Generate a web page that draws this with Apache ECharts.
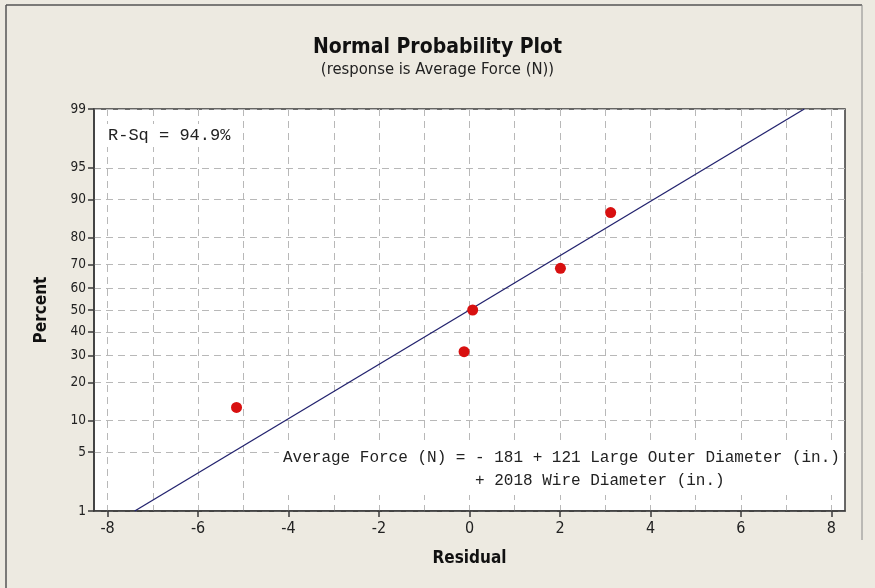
<!DOCTYPE html>
<html>
<head>
<meta charset="utf-8">
<script src="https://cdn.jsdelivr.net/npm/echarts@6/dist/echarts.min.js"></script>
<style>
html,body{margin:0;padding:0;background:#EDEAE1;}
#chart{width:875px;height:588px;}
</style>
</head>
<body>
<div id="chart"></div>
<script>
// ---- data ----
const residuals = [-5.15, -0.12, 0.07, 2.01, 3.12];
const percents = [12.96, 31.48, 50.0, 68.52, 87.04];
const fitResidual = [-7.40, 7.40];
const fitPercent = [1, 99];
const yTickPercents = [1, 5, 10, 20, 30, 40, 50, 60, 70, 80, 90, 95, 99];
const xTickValues = [-8, -6, -4, -2, 0, 2, 4, 6, 8];
const xGridValues = [-8, -7, -6, -5, -4, -3, -2, -1, 0, 1, 2, 3, 4, 5, 6, 7, 8];
const rsqText = 'R-Sq = 94.9%';
const eqLine1 = 'Average Force (N) = - 181 + 121 Large Outer Diameter (in.)';
const eqLine2 = '+ 2018 Wire Diameter (in.)';

// inverse standard normal CDF (probability scale), Acklam's approximation
function probit(p) {
  const a = [-3.969683028665376e+01, 2.209460984245205e+02, -2.759285104469687e+02, 1.383577518672690e+02, -3.066479806614716e+01, 2.506628277459239e+00];
  const b = [-5.447609879822406e+01, 1.615858368580409e+02, -1.556989798598866e+02, 6.680131188771972e+01, -1.328068155288572e+01];
  const c = [-7.784894002430293e-03, -3.223964580411365e-01, -2.400758277161838e+00, -2.549732539343734e+00, 4.374664141464968e+00, 2.938163982698783e+00];
  const d = [7.784695709041462e-03, 3.224671290700398e-01, 2.445134137142996e+00, 3.754408661907416e+00];
  const pl = 0.02425, ph = 1 - pl;
  let q, r;
  if (p < pl) {
    q = Math.sqrt(-2 * Math.log(p));
    return (((((c[0]*q+c[1])*q+c[2])*q+c[3])*q+c[4])*q+c[5]) / ((((d[0]*q+d[1])*q+d[2])*q+d[3])*q+1);
  } else if (p <= ph) {
    q = p - 0.5; r = q*q;
    return (((((a[0]*r+a[1])*r+a[2])*r+a[3])*r+a[4])*r+a[5])*q / (((((b[0]*r+b[1])*r+b[2])*r+b[3])*r+b[4])*r+1);
  } else {
    q = Math.sqrt(-2 * Math.log(1 - p));
    return -(((((c[0]*q+c[1])*q+c[2])*q+c[3])*q+c[4])*q+c[5]) / ((((d[0]*q+d[1])*q+d[2])*q+d[3])*q+1);
  }
}
const z = pct => probit(pct / 100);

const yTickZ = yTickPercents.map(z);
function yLabel(v) {
  let best = 0, bd = Infinity;
  yTickZ.forEach((t, i) => { const dd = Math.abs(t - v); if (dd < bd) { bd = dd; best = i; } });
  return String(yTickPercents[best]);
}

const tickFont = '"DejaVu Sans Condensed", "DejaVu Sans", sans-serif';
const mono = '"Liberation Mono", "DejaVu Sans Mono", monospace';

const chart = echarts.init(document.getElementById('chart'));
chart.setOption({
  backgroundColor: '#EDEAE1',
  animation: false,
  title: {
    text: 'Normal Probability Plot',
    subtext: '(response is Average Force (N))',
    left: 'center',
    top: 32,
    itemGap: 3,
    textStyle: { fontFamily: tickFont, fontWeight: 'bold', fontSize: 21, color: '#111' },
    subtextStyle: { fontFamily: tickFont, fontSize: 16.5, color: '#222' }
  },
  grid: {
    left: 94, right: 30, top: 109, bottom: 77,
    show: true, backgroundColor: '#FFFFFF', borderColor: '#3a3a3a', borderWidth: 1.5
  },
  xAxis: [{
    type: 'value', min: -8.3, max: 8.3, position: 'bottom',
    name: 'Residual', nameLocation: 'middle', nameGap: 39,
    nameTextStyle: { fontFamily: tickFont, fontWeight: 'bold', fontSize: 17, color: '#111' },
    axisLine: { show: true, onZero: false, lineStyle: { color: '#3a3a3a', width: 1.5 } },
    axisTick: { show: true, length: 6, customValues: xTickValues, lineStyle: { color: '#3a3a3a', width: 1.5 } },
    axisLabel: { customValues: xTickValues, fontFamily: tickFont, fontSize: 16, color: '#222', margin: 10 },
    splitLine: { show: false }
  }, {
    type: 'value', min: -8.3, max: 8.3, position: 'bottom',
    axisLine: { show: false },
    axisTick: { show: false, customValues: xGridValues },
    axisLabel: { show: false },
    splitLine: { show: true, lineStyle: { color: '#b8b8b8', type: [7, 5], width: 1 } }
  }],
  yAxis: {
    type: 'value', min: z(yTickPercents[0]), max: z(yTickPercents[yTickPercents.length - 1]),
    name: 'Percent', nameLocation: 'middle', nameGap: 44,
    nameTextStyle: { fontFamily: tickFont, fontWeight: 'bold', fontSize: 17, color: '#111' },
    axisLine: { show: true, onZero: false, lineStyle: { color: '#3a3a3a', width: 1.5 } },
    axisTick: { show: true, length: 6, customValues: yTickZ, lineStyle: { color: '#3a3a3a', width: 1.5 } },
    axisLabel: { customValues: yTickZ, formatter: yLabel, fontFamily: tickFont, fontSize: 13.5, color: '#222', margin: 8 },
    splitLine: { show: true, lineStyle: { color: '#b8b8b8', type: [7, 5], width: 1 } }
  },
  series: [{
    type: 'line',
    xAxisIndex: 0,
    data: fitResidual.map((x, i) => [x, z(fitPercent[i])]),
    symbol: 'none',
    lineStyle: { color: '#22226e', width: 1.3 },
    z: 3
  }, {
    type: 'scatter',
    xAxisIndex: 0,
    data: residuals.map((x, i) => [x, z(percents[i])]),
    symbol: 'circle', symbolSize: 11,
    itemStyle: { color: '#D81010', opacity: 1 },
    z: 4
  }],
  graphic: [
    { type: 'text', left: 104, top: 124, z: 2, style: { text: rsqText, font: '17px ' + mono, fill: '#222', backgroundColor: '#fff', padding: [3, 4, 3, 4] } },
    { type: 'text', left: 279, top: 443, z: 2, style: { text: eqLine1 + '\n' + '                    ' + eqLine2, font: '16px ' + mono, fill: '#222', lineHeight: 23, backgroundColor: '#fff', padding: [3, 4, 3, 4] } },
    { type: 'line', shape: { x1: 6, y1: 5, x2: 862, y2: 5 }, style: { stroke: '#555', lineWidth: 1.5 } },
    { type: 'line', shape: { x1: 6, y1: 5, x2: 6, y2: 588 }, style: { stroke: '#555', lineWidth: 1.5 } },
    { type: 'line', shape: { x1: 862, y1: 5, x2: 862, y2: 540 }, style: { stroke: '#888', lineWidth: 1 } }
  ]
});
</script>
</body>
</html>
